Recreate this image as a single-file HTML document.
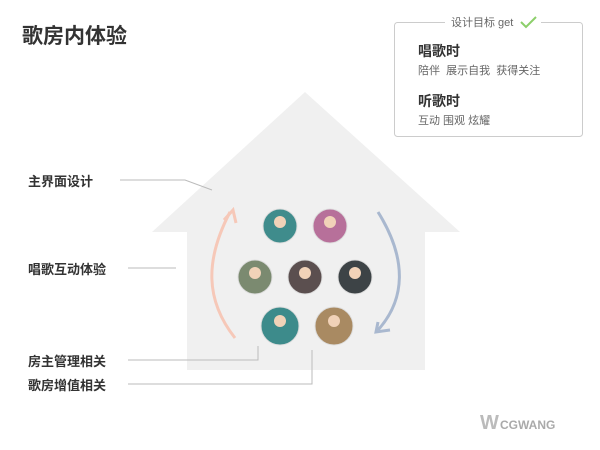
<!DOCTYPE html><html><head><style>
body{margin:0;width:600px;height:450px;background:#fff;font-family:"Liberation Sans","Noto Sans CJK SC",sans-serif;position:relative;overflow:hidden}
.t{position:absolute;white-space:nowrap;color:#333}
</style></head><body>
<svg width="600" height="450" style="position:absolute;left:0;top:0">
<polygon points="152,232 305,92 460,232 425,232 425,370 187,370 187,232" fill="#f0f0f0"/>
<path d="M230,212 C205,260 205,300 235,338" stroke="#f6c8b8" stroke-width="3" fill="none"/>
<path d="M224,220 L233,210 L236,223" stroke="#f6c8b8" stroke-width="3" fill="none"/>
<path d="M378,212 C408,260 405,300 378,330" stroke="#a9b8cf" stroke-width="3" fill="none"/>
<path d="M378,322 L376,332 L390,330" stroke="#a9b8cf" stroke-width="3" fill="none"/>
<g stroke="#ddd">
<circle cx="280" cy="226" r="17" fill="#3f8c8c"/><circle cx="330" cy="226" r="17" fill="#b7709a"/>
<circle cx="255" cy="277" r="17" fill="#7b8a70"/><circle cx="305" cy="277" r="17" fill="#5b4f4f"/>
<circle cx="355" cy="277" r="17" fill="#3d4346"/><circle cx="280" cy="326" r="19" fill="#3d8b8b"/>
<circle cx="334" cy="326" r="19" fill="#a98a62"/></g>
<g fill="#f1d2b8"><circle cx="280" cy="222" r="6"/><circle cx="330" cy="222" r="6"/><circle cx="255" cy="273" r="6"/><circle cx="305" cy="273" r="6"/><circle cx="355" cy="273" r="6"/><circle cx="280" cy="321" r="6"/><circle cx="334" cy="321" r="6"/></g>
<g stroke="#bbb" fill="none" stroke-width="1">
<polyline points="120,180 185,180 212,190"/>
<line x1="128" y1="268" x2="176" y2="268"/>
<polyline points="128,360 258,360 258,346"/>
<polyline points="128,384 312,384 312,350"/>
</g>
<rect x="394.5" y="22.5" width="188" height="114" rx="3" fill="#fff" stroke="#ccc"/>
<rect x="445" y="16" width="96" height="12" fill="#fff"/>
<path d="M521,22 L526,27 L536,17" stroke="#8ccf6a" stroke-width="2" fill="none"/>
</svg>
<div class="t" style="left:22px;top:20px;font-size:21px;font-weight:bold;color:#333">歌房内体验</div>
<div class="t" style="left:451px;top:14px;font-size:11px;color:#666">设计目标 get</div>
<div class="t" style="left:418px;top:41px;font-size:14px;font-weight:bold">唱歌时</div>
<div class="t" style="left:418px;top:62px;font-size:11px;color:#666">陪伴&nbsp; 展示自我&nbsp; 获得关注</div>
<div class="t" style="left:418px;top:91px;font-size:14px;font-weight:bold">听歌时</div>
<div class="t" style="left:418px;top:112px;font-size:11px;color:#666">互动 围观 炫耀</div>
<div class="t" style="left:28px;top:171px;font-size:13px;font-weight:bold">主界面设计</div>
<div class="t" style="left:28px;top:259px;font-size:13px;font-weight:bold">唱歌互动体验</div>
<div class="t" style="left:28px;top:351px;font-size:13px;font-weight:bold">房主管理相关</div>
<div class="t" style="left:28px;top:375px;font-size:13px;font-weight:bold">歌房增值相关</div>
<div class="t" style="left:480px;top:412px;font-size:20px;font-weight:bold;color:#bbb">W</div>
<div class="t" style="left:500px;top:418px;font-size:12px;font-weight:bold;color:#aaa">CGWANG</div>
</body></html>
